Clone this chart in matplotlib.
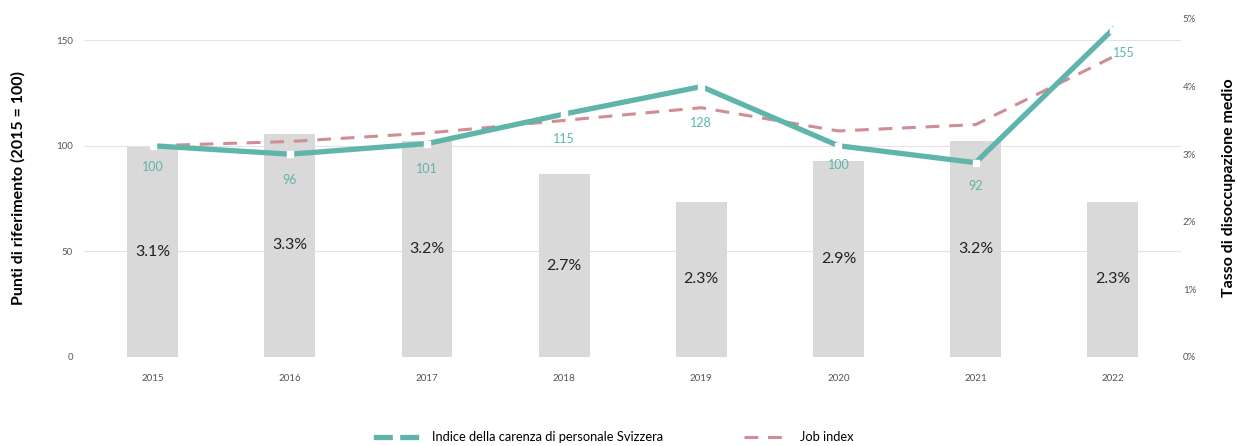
import numpy as np
import matplotlib.pyplot as plt
import matplotlib.transforms as mtransforms

plt.rcParams['font.family'] = ['Lato', 'DejaVu Sans']

anni = ['2015', '2016', '2017', '2018', '2019', '2020', '2021', '2022']
disoccupazione = [3.1, 3.3, 3.2, 2.7, 2.3, 2.9, 3.2, 2.3]
indice_carenza = [100, 96, 101, 115, 128, 100, 92, 155]
job_index = [100, 102, 106, 112, 118, 107, 110, 142]

teal = '#5fb5aa'
rosa = '#d08d94'
grigio = '#d9d9d9'

fig = plt.figure(figsize=(12.37, 4.46), dpi=100)
ax = fig.add_axes([0.068, 0.1996, 0.887, 0.7578])
ax2 = ax.twinx()

x = np.arange(len(anni))
ax.set_ylim(0, 160)
ax.set_xlim(-0.5, 7.5)

# griglia disegnata sotto le barre (valori dell'asse sinistro)
trans = mtransforms.blended_transform_factory(ax2.transAxes, ax.transData)
ax2.hlines([0, 50, 100, 150], 0, 1, transform=trans, color='#e3e3e3', lw=0.8, zorder=0)

# barre sull'asse destro (tasso di disoccupazione)
ax2.bar(x, disoccupazione, width=0.37, color=grigio, zorder=1)
for xi, v in zip(x, disoccupazione):
    ax2.text(xi, v / 2, f'{v}%', ha='center', va='center', fontsize=11.5, color='#222222', zorder=2)
ax2.set_ylim(0, 5)
ax2.set_yticks(range(6))
ax2.set_yticklabels([f'{i}%' for i in range(6)])
ax2.set_ylabel('Tasso di disoccupazione medio', fontsize=11.5, fontweight='bold', labelpad=19)

# linee sull'asse sinistro
ax.set_zorder(ax2.get_zorder() + 1)
ax.patch.set_visible(False)
l1, = ax.plot(x, indice_carenza, color=teal, lw=3.8, marker='s', ms=4,
              mfc='white', mec='white', zorder=3, label='Indice della carenza di personale Svizzera')
l2, = ax.plot(x, job_index, color=rosa, lw=2.2, ls=(0, (4.5, 3.2)), zorder=2, label='Job index')
scarti = [10, 12, 12, 12, 17, 9, 11, 11]
for xi, v, d in zip(x, indice_carenza, scarti):
    if v == 155:
        ax.text(xi, v - d, str(v), ha='left', va='center', fontsize=9, color=teal)
    else:
        ax.text(xi, v - d, str(v), ha='center', va='center', fontsize=9, color=teal)

ax.set_yticks([0, 50, 100, 150])
ax.set_xticks(x)
ax.set_xticklabels(anni)
ax.set_ylabel('Punti di riferimento (2015 = 100)', fontsize=11.5, fontweight='bold', labelpad=22)

for a in (ax, ax2):
    for s in a.spines.values():
        s.set_visible(False)
    a.tick_params(length=0, labelsize=7, labelcolor='#555555')
ax.tick_params(axis='y', pad=8)
ax.tick_params(axis='x', pad=12)
ax2.tick_params(axis='y', pad=1)

fig.legend(handles=[l1, l2], loc='center', bbox_to_anchor=(0.497, 0.02), ncol=2,
           frameon=False, fontsize=9.3, columnspacing=6.2, handlelength=3.1, handletextpad=1.3)

fig.savefig('out.png', dpi=100)
